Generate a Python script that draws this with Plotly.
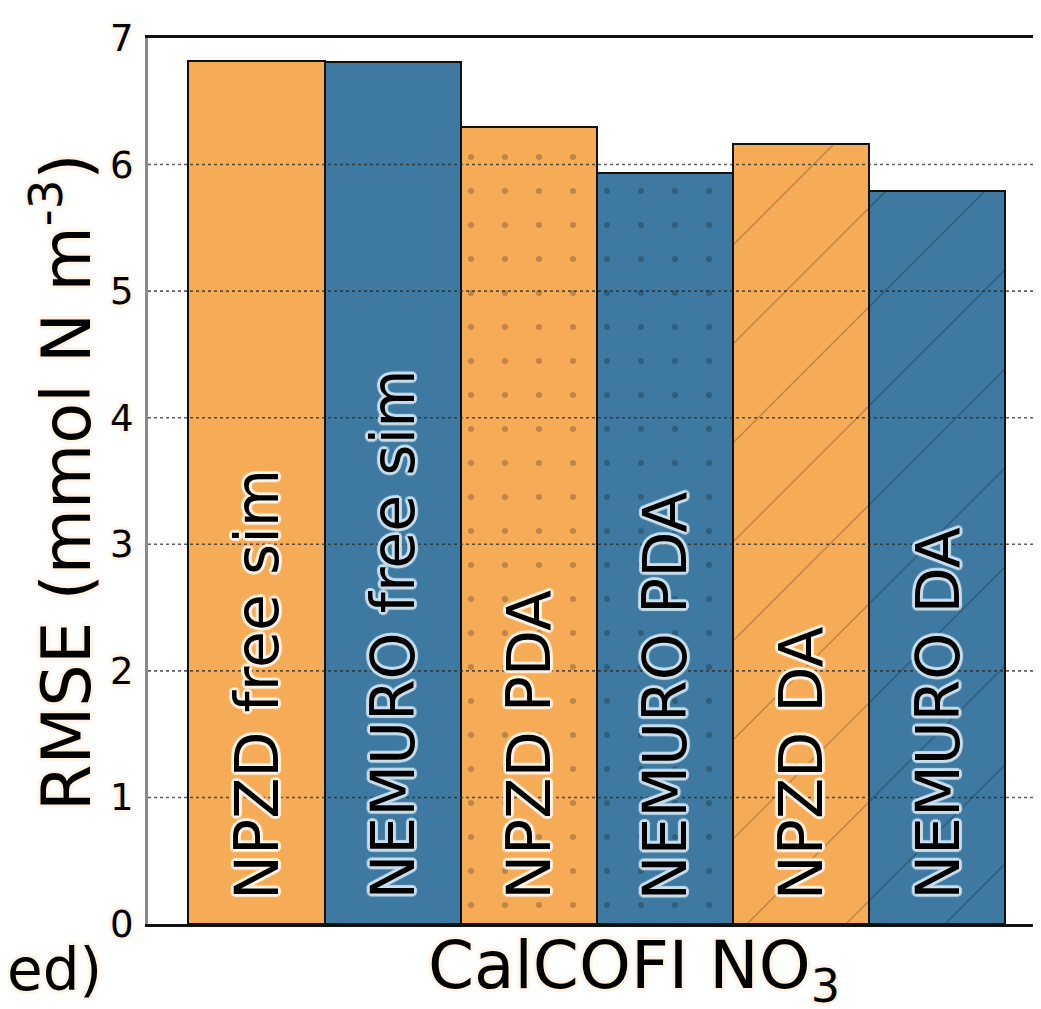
import plotly.graph_objects as go

# ---- data ----
categories = ["NPZD free sim", "NEMURO free sim", "NPZD PDA", "NEMURO PDA", "NPZD DA", "NEMURO DA"]
rmse_values = [6.82, 6.81, 6.30, 5.93, 6.16, 5.79]
model_of_bar = ["NPZD", "NEMURO", "NPZD", "NEMURO", "NPZD", "NEMURO"]
model_colors = {"NPZD": "#F6AB57", "NEMURO": "#3D79A0"}
bar_patterns = ["", "", ".", ".", "/", "/"]
y_ticks = [0, 1, 2, 3, 4, 5, 6, 7]
y_title = "RMSE (mmol N m<sup>-3</sup>)"
x_title = "CalCOFI NO<sub>3</sub>"
left_fragment = "ed)"

FONT = "DejaVu Sans"
OFF = 8                      # page body margin
SW, SH = 1041, 1009          # screen size
PL, PT, PB = 148, 38, 924    # plot area in screen pixels (left, top, bottom)
W, H = SW - OFF, SH - OFF
L, T = PL - OFF, PT - OFF
B = H - (PB - OFF)

def px_x(p):
    return (p - PL) / (SW - PL)

def px_y(p):
    return (PB - p) / (PB - PT)

def halo(c):
    return ", ".join([f"{dx}px {dy}px 1px {c}" for dx, dy in
                      [(-2, -2), (2, -2), (-2, 2), (2, 2), (0, 3), (0, -3), (3, 0), (-3, 0)]])

halos = {"NPZD": halo("rgba(255,243,228,0.9)"), "NEMURO": halo("rgba(200,222,236,0.95)")}
cream = halos["NPZD"]

pattern_size = {"": 34, ".": 34, "/": 70}
pattern_solid = {"": 0.02, ".": 0.025, "/": 0.022}

fig = go.Figure()
for i, (cat, val, model, shp) in enumerate(zip(categories, rmse_values, model_of_bar, bar_patterns)):
    fig.add_trace(go.Bar(
        x=[cat], y=[val], width=1.0,
        marker=dict(color=model_colors[model], line=dict(color="#111111", width=2),
                    pattern=dict(shape=shp, fillmode="overlay", size=pattern_size[shp],
                                 solidity=pattern_solid[shp], fgcolor="#000000", fgopacity=0.22)),
        showlegend=False, hoverinfo="skip",
    ))

# bar labels
for cat, model in zip(categories, model_of_bar):
    fig.add_annotation(x=cat, y=0, xref="x", yref="y", text=cat, showarrow=False,
                       textangle=-90, yanchor="bottom", xanchor="center", yshift=22,
                       font=dict(family=FONT, size=60, color="black", shadow=halos[model]))

# dotted grid drawn above bars
for v in y_ticks[1:-1]:
    fig.add_shape(type="line", xref="paper", yref="y", x0=0, x1=1, y0=v, y1=v,
                  line=dict(color="rgba(40,40,40,0.75)", width=1.6, dash="dot"), layer="above")

# axis titles
fig.add_annotation(xref="paper", yref="paper", x=px_x(62), y=px_y(482), text=y_title,
                   textangle=-90, showarrow=False, xanchor="center", yanchor="middle",
                   font=dict(family=FONT, size=67, color="black", shadow=cream))
fig.add_annotation(xref="paper", yref="paper", x=px_x(634), y=px_y(970),
                   text=x_title, showarrow=False, xanchor="center", yanchor="middle",
                   font=dict(family=FONT, size=66, color="black", shadow=cream))
fig.add_annotation(xref="paper", yref="paper", x=px_x(104), y=px_y(970),
                   text=left_fragment, showarrow=False, xanchor="right", yanchor="middle",
                   font=dict(family=FONT, size=58, color="black", shadow=cream))

fig.update_layout(
    width=W, height=H,
    margin=dict(l=L, r=0, t=T, b=B, pad=0),
    plot_bgcolor="white", paper_bgcolor="white",
    barmode="overlay", bargap=0,
    font=dict(family=FONT, color="black"),
)
fig.update_xaxes(range=[-0.796, 5.761], categoryorder="array", categoryarray=categories,
                 showticklabels=False, ticks="", showgrid=False,
                 showline=True, linecolor="#111111", linewidth=2.5, mirror=True, zeroline=False)
fig.update_yaxes(range=[0, 7], tickvals=y_ticks, ticktext=[str(v) for v in y_ticks],
                 showgrid=False, zeroline=False, showline=True, linecolor="#8a8a8a", linewidth=3,
                 ticks="", ticklabelstandoff=4,
                 tickfont=dict(family=FONT, size=37, color="black", shadow=cream))

fig.write_html("out.html")
